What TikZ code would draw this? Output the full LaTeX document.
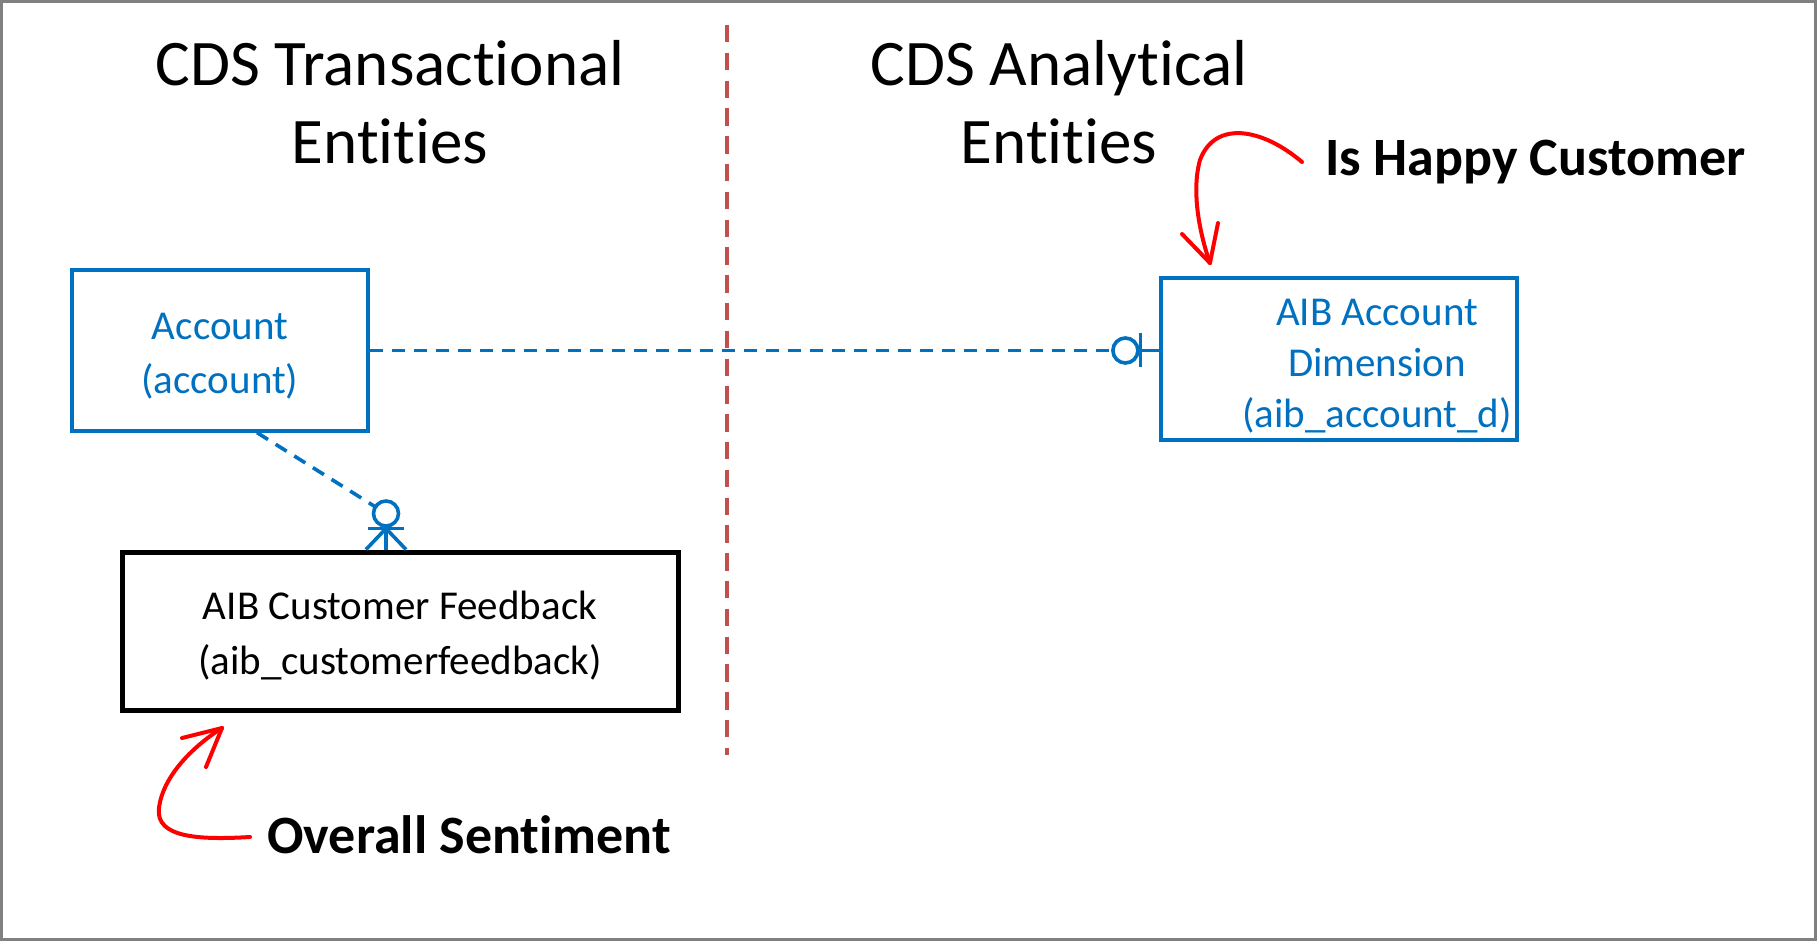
\documentclass[tikz,border=0pt]{standalone}
\usepackage{fontspec}
\setmainfont{Carlito}[Ligatures={NoCommon,NoRare,NoContextual}]
\usetikzlibrary{calc}
\definecolor{msblue}{HTML}{0070C0}
\definecolor{divred}{HTML}{C0504D}
\begin{document}
\begin{tikzpicture}[x=0.5pt,y=-0.5pt,
  bluebox/.style={draw=msblue, line width=1.6pt, inner sep=0pt},
  blackbox/.style={draw=black, line width=2.5pt, inner sep=0pt},
  bluetext/.style={text=msblue, align=center, font=\fontsize{20.5}{27}\selectfont, inner sep=0pt},
  blacktext/.style={text=black, align=center, font=\fontsize{20.5}{27.5}\selectfont, inner sep=0pt},
  titletext/.style={align=center, font=\fontsize{32.5}{39}\selectfont, inner sep=0pt},
  note/.style={font=\bfseries\fontsize{27}{32}\selectfont, inner sep=0pt, anchor=west},
  conn/.style={draw=msblue, line width=1.8pt},
  dashconn/.style={conn, dash pattern=on 6.5pt off 4.5pt},
  divider/.style={draw=divred, line width=1.7pt, dash pattern=on 8.7pt off 5.2pt},
  hand/.style={draw=red, line width=2pt, line cap=round, line join=round}]
\useasboundingbox (0,0) rectangle (1817,941);
\draw[draw=gray, line width=1.5pt] (1.5,1.5) rectangle (1815.5,939.5);

% titles
\node[titletext] (ttrans) at (390,102) {CDS Transactional\\Entities};
\node[titletext] (tana) at (1059,102) {CDS Analytical\\Entities};

% divider
\coordinate (divtop) at (727,25);
\coordinate (divbot) at (727,755);
\draw[divider] (divtop) -- (divbot);

% entity boxes
\node[bluebox, minimum width=148pt, minimum height=80.5pt] (acc) at (220,350.5) {};
\node[bluetext] (acctext) at ($(acc.center)+(0,6)$) {Account\\(account)};
\node[bluebox, minimum width=178pt, minimum height=81pt] (dim) at (1339,359) {};
\node[bluetext, font=\fontsize{20.5}{25.5}\selectfont] (dimtext) at ($(dim.center)+(38,7)$) {AIB Account\\Dimension\\(aib\_account\_d)};
\node[blackbox, minimum width=278pt, minimum height=79pt] (fb) at (400,631) {};
\node[blacktext] (fbtext) at ($(fb.center)+(0,5)$) {AIB Customer Feedback\\(aib\_customerfeedback)};

% account -> dimension (zero-or-one)
\coordinate (dimIn) at (acc.east -| dim.west);
\draw[dashconn] (acc.east) -- ($(dimIn)+(-46.5,0)$);
\draw[conn] ($(dimIn)+(-34,0)$) circle[radius=6.25pt];
\draw[conn] ($(dimIn)+(-19,-17)$) -- ($(dimIn)+(-19,17)$);
\draw[conn] ($(dimIn)+(-21.5,0)$) -- (dimIn);

% account -> feedback (zero-or-many)
\coordinate (accOut) at ($(acc.south)+(37,0)$);
\coordinate (fbIn) at ($(fb.north)+(-14,0)$);
\coordinate (cc) at ($(fbIn)+(0,-36)$);
\draw[dashconn] (accOut) -- ($(cc)!6.25pt!(accOut)$);
\draw[conn] (cc) circle[radius=6.25pt];
\draw[conn] ($(fbIn)+(-18,-21)$) -- ($(fbIn)+(18,-21)$);
\draw[conn] ($(fbIn)+(0,-21)$) -- ($(fbIn)+(-20,0)$);
\draw[conn] ($(fbIn)+(0,-21)$) -- (fbIn);
\draw[conn] ($(fbIn)+(0,-21)$) -- ($(fbIn)+(20,0)$);

% annotations
\node[note] (happy) at (1325,162) {Is Happy Customer};
\node[note] (overall) at (267,835) {Overall Sentiment};

\coordinate (tipA) at (1210,263);
\draw[hand] ($(happy.west)+(-23,0)$) .. controls (1262,128) and (1215,120) .. (1200,160) .. controls (1191,192) and (1200,235) .. (tipA);
\draw[hand] (tipA) -- ($(tipA)+(-28,-29)$);
\draw[hand] (tipA) -- ($(tipA)+(8,-40)$);

\coordinate (tipB) at (222,728);
\draw[hand] ($(overall.west)+(-17,2)$) .. controls (200,840) and (155,838) .. (159,808) .. controls (163,775) and (195,745) .. (tipB);
\draw[hand] (tipB) -- ($(tipB)+(-40,10)$);
\draw[hand] (tipB) -- ($(tipB)+(-16,39)$);
\end{tikzpicture}
\end{document}
